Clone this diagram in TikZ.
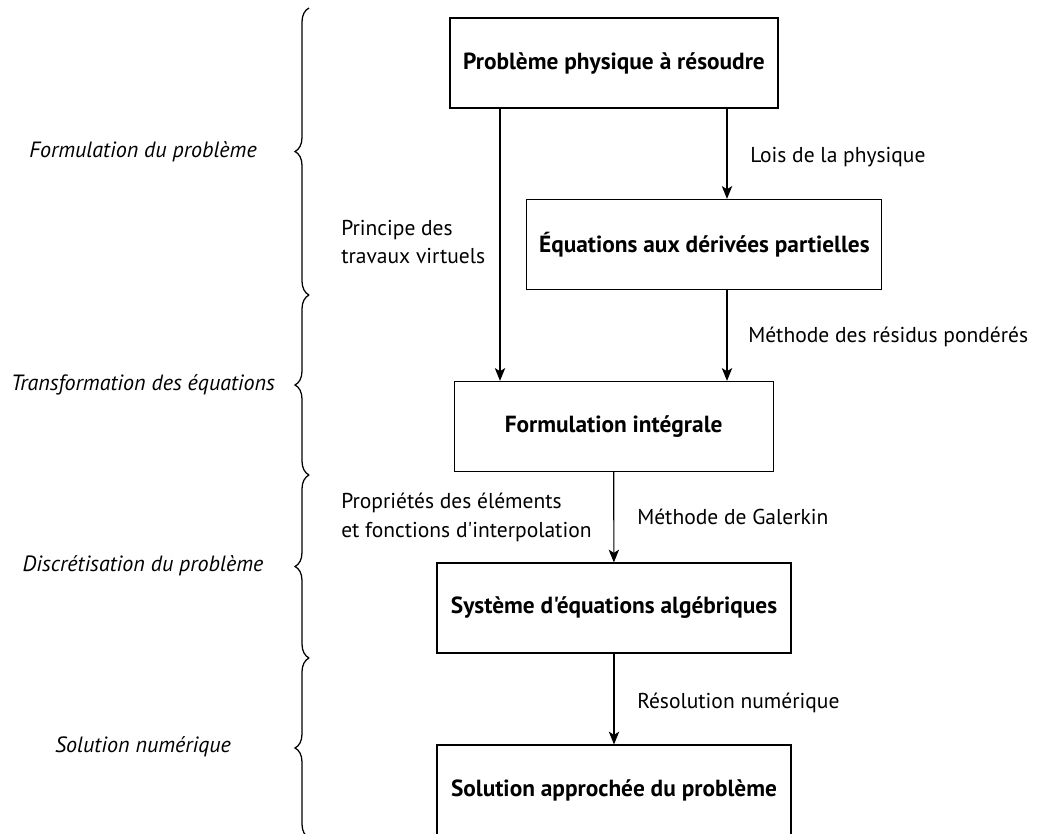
\documentclass[tikz,border=0pt]{standalone}
\usepackage{fontspec}
\setmainfont[Ligatures=TeXOff]{PT Sans}
\usepackage{tikz}
\usetikzlibrary{arrows.meta,positioning,calc,decorations.pathreplacing}

\begin{document}
\begin{tikzpicture}[
    box/.style={draw, line width=0.8pt, minimum height=2.25cm, font=\fontsize{16.6}{19}\selectfont\bfseries},
    arr/.style={-{Stealth[length=3.2mm, width=2.6mm, inset=0.8mm]}, line width=0.8pt},
    lbl/.style={anchor=west, align=left, inner sep=0pt, font=\fontsize{15.3}{20.5}\selectfont},
    phase/.style={font=\fontsize{15.7}{18}\selectfont\itshape},
    brc/.style={decorate, decoration={brace, amplitude=3.5mm}, line width=0.9pt}]

    \useasboundingbox (0,0) rectangle (26,-20.85);

    % Boxes
    \node[box, minimum width=8.2cm] (prob) at (15.35,-1.575) {Problème physique à résoudre};
    \node[box, minimum width=8.875cm] (edp) at (17.61,-6.11) {Équations aux dérivées partielles};
    \node[box, minimum width=7.975cm] (integ) at (15.34,-10.66) {Formulation intégrale};
    \node[box, minimum width=8.85cm] (sys) at (15.35,-15.2) {Système d'équations algébriques};
    \node[box, minimum width=8.85cm] (sol) at (15.35,-19.75) {Solution approchée du problème};

    % Arrow columns
    \coordinate (lx) at (12.5,0);
    \coordinate (rx) at (18.175,0);

    % Connections
    \draw[arr] (prob.south -| rx) -- (edp.north -| rx);
    \draw[arr] (prob.south -| lx) -- (integ.north -| lx);
    \draw[arr] (edp.south -| rx) -- (integ.north -| rx);
    \draw[arr] (integ) -- (sys);
    \draw[arr] (sys) -- (sol);

    % Arrow labels
    \node[lbl] (lois) at (18.75,-3.925) {Lois de la physique};
    \node[lbl] (ptv) at (8.525,-6.05) {Principe des\\travaux virtuels};
    \node[lbl] (mrp) at (18.7,-8.425) {Méthode des résidus pondérés};
    \node[lbl] (prop) at (8.525,-12.925) {Propriétés des éléments\\et fonctions d'interpolation};
    \node[lbl] (gal) at (15.925,-12.925) {Méthode de Galerkin};
    \node[lbl] (reso) at (15.925,-17.575) {Résolution numérique};

    % Phases
    \draw[brc] (7.725,-7.375) -- (7.725,-0.2);
    \draw[brc] (7.725,-11.875) -- (7.725,-7.375);
    \draw[brc] (7.725,-16.45) -- (7.725,-11.875);
    \draw[brc] (7.725,-20.95) -- (7.725,-16.45);
    \node[phase] (f1) at (3.575,-3.8) {Formulation du problème};
    \node[phase] (f2) at (3.575,-9.625) {Transformation des équations};
    \node[phase] (f3) at (3.575,-14.15) {Discrétisation du problème};
    \node[phase] (f4) at (3.575,-18.68) {Solution numérique};
\end{tikzpicture}
\end{document}
